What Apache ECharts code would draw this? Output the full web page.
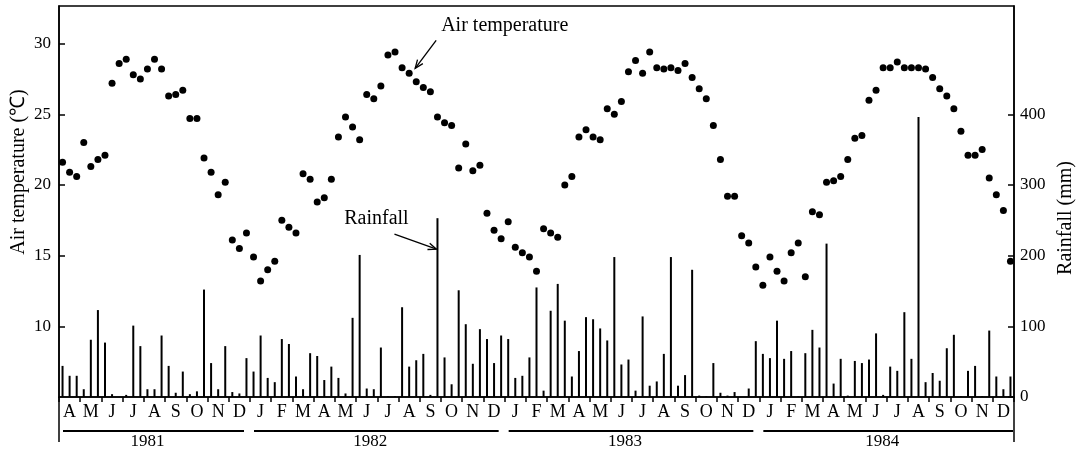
<!DOCTYPE html>
<html>
<head>
<meta charset="utf-8">
<script src="https://cdn.jsdelivr.net/npm/echarts@6/dist/echarts.min.js"></script>
<style>
html, body { margin: 0; padding: 0; background: #fff; }
#main { width: 1082px; height: 455px; }
</style>
</head>
<body>
<div id="main"></div>
<script>
// month initials, Apr 1981 .. Dec 1984 (3 dekads per month)
var monthLetters = [
    'A','M','J','J','A','S','O','N','D',
    'J','F','M','A','M','J','J','A','S','O','N','D',
    'J','F','M','A','M','J','J','A','S','O','N','D',
    'J','F','M','A','M','J','J','A','S','O','N','D'
];
var years = ['1981', '1982', '1983', '1984'];
var yearFirstMonth = [0, 9, 21, 33];
var yearMonthCount = [9, 12, 12, 12];

// dekad mean air temperature (C)
var airTemp = [
    21.6, 20.9, 20.6, 23.0, 21.3, 21.8, 22.1, 27.2, 28.6, 28.9,
    27.8, 27.5, 28.2, 28.9, 28.2, 26.3, 26.4, 26.7, 24.7, 24.7,
    21.9, 20.9, 19.3, 20.2, 16.1, 15.5, 16.6, 14.9, 13.2, 14.0,
    14.6, 17.5, 17.0, 16.6, 20.8, 20.4, 18.8, 19.1, 20.4, 23.4,
    24.8, 24.1, 23.2, 26.4, 26.1, 27.0, 29.2, 29.4, 28.3, 27.9,
    27.3, 26.9, 26.6, 24.8, 24.4, 24.2, 21.2, 22.9, 21.0, 21.4,
    18.0, 16.8, 16.2, 17.4, 15.6, 15.2, 14.9, 13.9, 16.9, 16.6,
    16.3, 20.0, 20.6, 23.4, 23.9, 23.4, 23.2, 25.4, 25.0, 25.9,
    28.0, 28.8, 27.9, 29.4, 28.3, 28.2, 28.3, 28.1, 28.6, 27.6,
    26.8, 26.1, 24.2, 21.8, 19.2, 19.2, 16.4, 15.9, 14.2, 12.9,
    14.9, 13.9, 13.2, 15.2, 15.9, 13.5, 18.1, 17.9, 20.2, 20.3,
    20.6, 21.8, 23.3, 23.5, 26.0, 26.7, 28.3, 28.3, 28.7, 28.3,
    28.3, 28.3, 28.2, 27.6, 26.8, 26.3, 25.4, 23.8, 22.1, 22.1,
    22.5, 20.5, 19.3, 18.2, 14.6
];

// dekad rainfall (mm)
var rainfall = [
    44, 30, 30, 11, 81, 123, 77, 4, 0, 3,
    101, 72, 11, 11, 87, 44, 6, 36, 4, 8,
    152, 48, 11, 72, 7, 5, 55, 36, 87, 27,
    21, 82, 75, 29, 11, 62, 58, 24, 43, 27,
    5, 112, 201, 12, 11, 70, 1, 1, 127, 43,
    52, 61, 3, 253, 56, 18, 151, 103, 47, 96,
    82, 48, 87, 82, 27, 30, 56, 155, 9, 122,
    160, 108, 29, 65, 113, 110, 97, 80, 198, 46,
    53, 9, 114, 16, 22, 61, 198, 16, 31, 180,
    2, 1, 48, 6, 2, 7, 0, 12, 79, 61,
    55, 108, 54, 65, 1, 62, 95, 70, 217, 19,
    54, 2, 51, 48, 53, 90, 3, 43, 37, 120,
    54, 396, 21, 34, 23, 69, 88, 1, 37, 44,
    1, 94, 29, 11, 29
];

var tempTicks = [10, 15, 20, 25, 30];
var rainTicks = [0, 100, 200, 300, 400];

var font = "'Liberation Serif', 'Times New Roman', serif";
var gridLeft = 59, gridRight = 68, gridTop = 6, gridBottom = 58;
var W = 1082, H = 455;

// one category per dekad
var dekads = [];
for (var m = 0; m < monthLetters.length; m++) {
    for (var d = 1; d <= 3; d++) {
        dekads.push(monthLetters[m] + '-' + m + '-' + d);
    }
}

var myChart = echarts.init(document.getElementById('main'));

var option = {
    backgroundColor: '#fff',
    animation: false,
    grid: {
        left: gridLeft, right: gridRight, top: gridTop, bottom: gridBottom,
        show: true, borderColor: '#000', borderWidth: 1.5, backgroundColor: 'transparent'
    },
    xAxis: {
        type: 'category',
        data: dekads,
        boundaryGap: true,
        axisLine: { lineStyle: { color: '#000', width: 1.5 } },
        axisTick: {
            show: true, length: 5,
            lineStyle: { color: '#000', width: 1.5 },
            interval: function (index) { return index % 3 === 0; }
        },
        axisLabel: {
            color: '#000', fontFamily: font, fontSize: 18, margin: 6,
            interval: function (index) { return index % 3 === 1; },
            formatter: function (v) { return v.split('-')[0]; }
        },
        splitLine: { show: false }
    },
    yAxis: [
        {
            type: 'value', position: 'left',
            min: 5, max: 32.66,
            axisLine: { show: true, lineStyle: { color: '#000', width: 1.5 } },
            axisTick: { show: true, inside: true, length: 6, customValues: tempTicks,
                lineStyle: { color: '#000', width: 1.5 } },
            axisLabel: { color: '#000', fontFamily: font, fontSize: 17, margin: 8, customValues: tempTicks },
            splitLine: { show: false }
        },
        {
            type: 'value', position: 'right',
            min: 0, max: 553.2,
            axisLine: { show: true, lineStyle: { color: '#000', width: 1.5 } },
            axisTick: { show: true, inside: true, length: 6, customValues: rainTicks,
                lineStyle: { color: '#000', width: 1.5 } },
            axisLabel: { color: '#000', fontFamily: font, fontSize: 17, margin: 6, customValues: rainTicks },
            splitLine: { show: false }
        }
    ],
    series: [
        {
            name: 'Rainfall',
            type: 'bar',
            yAxisIndex: 1,
            barWidth: 2,
            itemStyle: { color: '#000' },
            data: rainfall
        },
        {
            name: 'Air temperature',
            type: 'scatter',
            yAxisIndex: 0,
            symbolSize: 7,
            itemStyle: { color: '#000', opacity: 1 },
            data: airTemp
        }
    ]
};
myChart.setOption(option);

// decorations: axis extensions, year brackets, axis names, arrows
function arrow(x1, y1, x2, y2) {
    var a = Math.atan2(y2 - y1, x2 - x1), L = 9, w = 0.38;
    var st = { stroke: '#000', lineWidth: 1.3, fill: null };
    return [
        { type: 'line', silent: true, shape: { x1: x1, y1: y1, x2: x2, y2: y2 }, style: st },
        { type: 'polyline', silent: true, shape: { points: [
            [x2 - L * Math.cos(a - w), y2 - L * Math.sin(a - w)],
            [x2, y2],
            [x2 - L * Math.cos(a + w), y2 - L * Math.sin(a + w)]
        ] }, style: st }
    ];
}

var baseY = H - gridBottom;
var xl = gridLeft, xr = W - gridRight;
var half = (myChart.convertToPixel({ xAxisIndex: 0 }, 1) - myChart.convertToPixel({ xAxisIndex: 0 }, 0)) / 2;
var g = [];
g.push({ type: 'line', silent: true, shape: { x1: xl, y1: baseY, x2: xl, y2: 442 }, style: { stroke: '#000', lineWidth: 1.5 } });
g.push({ type: 'line', silent: true, shape: { x1: xr, y1: baseY, x2: xr, y2: 442 }, style: { stroke: '#000', lineWidth: 1.5 } });

years.forEach(function (yr, k) {
    var i0 = yearFirstMonth[k] * 3;
    var i1 = (yearFirstMonth[k] + yearMonthCount[k]) * 3 - 1;
    var x0 = myChart.convertToPixel({ xAxisIndex: 0 }, i0) - half + 4;
    var x1 = myChart.convertToPixel({ xAxisIndex: 0 }, i1) + half - (k === years.length - 1 ? 1 : 6);
    g.push({ type: 'line', silent: true, shape: { x1: x0, y1: 431, x2: x1, y2: 431 }, style: { stroke: '#000', lineWidth: 1.8 } });
    g.push({ type: 'text', silent: true, x: (x0 + x1) / 2 - 6, y: 442,
        style: { text: yr, font: '17px ' + font, fill: '#000', align: 'center', verticalAlign: 'middle' } });
});

g.push({ type: 'text', silent: true, x: 19, y: 172, rotation: Math.PI / 2,
    style: { text: 'Air temperature (℃)', font: '20px ' + font, fill: '#000', align: 'center', verticalAlign: 'middle' } });
g.push({ type: 'text', silent: true, x: 1066, y: 218, rotation: Math.PI / 2,
    style: { text: 'Rainfall (mm)', font: '20px ' + font, fill: '#000', align: 'center', verticalAlign: 'middle' } });

var tp = myChart.convertToPixel({ seriesIndex: 1 }, [49, airTemp[49]]);
var tTip = [tp[0] + 6, tp[1] - 5];
g = g.concat(arrow(tTip[0] + 21, tTip[1] - 28, tTip[0], tTip[1]));
g.push({ type: 'text', silent: true, x: tTip[0] + 26, y: tTip[1] - 43,
    style: { text: 'Air temperature', font: '20px ' + font, fill: '#000', align: 'left', verticalAlign: 'middle' } });

var rp = myChart.convertToPixel({ seriesIndex: 0 }, [53, rainfall[53]]);
var rTip = [rp[0] - 1, rp[1] + 31];
g = g.concat(arrow(rTip[0] - 42, rTip[1] - 15, rTip[0], rTip[1]));
g.push({ type: 'text', silent: true, x: rTip[0] - 60, y: rTip[1] - 30,
    style: { text: 'Rainfall', font: '20px ' + font, fill: '#000', align: 'center', verticalAlign: 'middle' } });

myChart.setOption({ graphic: g });
</script>
</body>
</html>
